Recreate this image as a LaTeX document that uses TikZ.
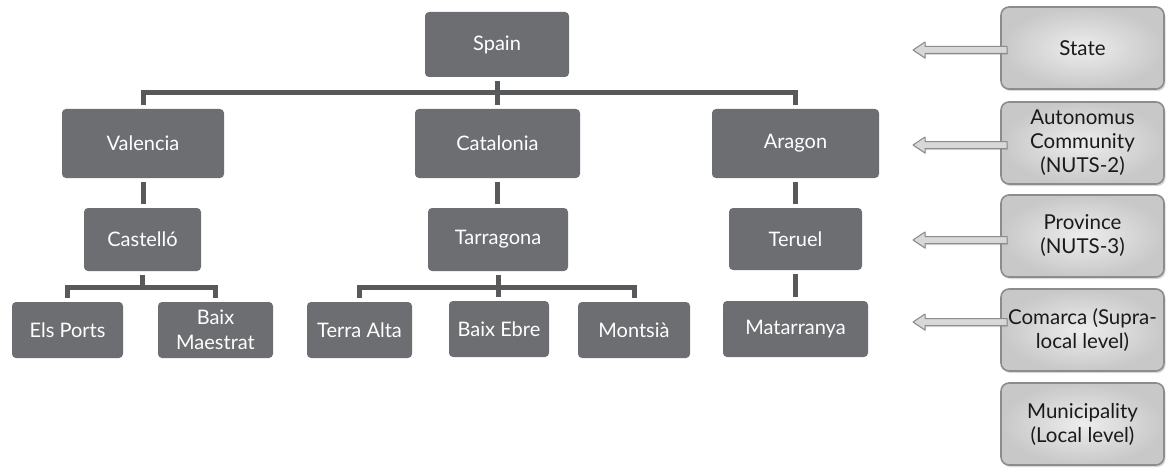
\documentclass[tikz,border=0pt]{standalone}
\usepackage{fontspec}
\setmainfont{Lato}
\usetikzlibrary{calc,shadows}

\definecolor{boxdark}{HTML}{6D6E71}
\definecolor{linkc}{HTML}{58595B}
\definecolor{lvlfill}{HTML}{D8D8D8}
\definecolor{lvlin}{HTML}{EDEDED}
\definecolor{lvlout}{HTML}{C8C8C8}
\definecolor{lvledge}{HTML}{8C8C8C}
\definecolor{lvltext}{HTML}{1A1A1A}

% arrow from a level box to the tree row it names
\newcommand\levelarrow[2]{%
  \draw[levelarr] let \p1=(#2), \p2=(#1.west) in
    (\p1) -- (\x1+12pt,\y1+8pt) -- (\x1+12pt,\y1+3.5pt) -- (\x2+7pt,\y1+3.5pt)
    -- (\x2+7pt,\y1-3.5pt) -- (\x1+12pt,\y1-3.5pt) -- (\x1+12pt,\y1-8pt) -- cycle;}

\begin{document}
\begin{tikzpicture}[x=1pt,y=-1pt,
  unit/.style={draw=none,fill=boxdark,rounded corners=4pt,text=white,
    align=center,inner sep=0pt,font=\fontsize{20}{24.5}\selectfont},
  level/.style={draw=lvledge,line width=1.6pt,rounded corners=8pt,
    inner color=lvlin,outer color=lvlout,text=lvltext,
    minimum width=163pt,minimum height=82pt,align=center,inner sep=0pt,
    font=\fontsize{20.5}{24}\selectfont,
    drop shadow={opacity=0.3,shadow xshift=1.5pt,shadow yshift=-2pt}},
  link/.style={draw=linkc,line width=5pt,shorten <=4pt,shorten >=4pt},
  levelarr/.style={draw=lvledge,line width=1pt,fill=lvlfill,line join=round,
    drop shadow={opacity=0.3,shadow xshift=1pt,shadow yshift=-1.5pt}}]
\useasboundingbox (0,0) rectangle (1166,468);

% tree of territorial units
\node[unit,minimum width=144pt,minimum height=65pt] (spain) at (497,44.5) {Spain};
\node[unit,minimum width=162pt,minimum height=69pt] (valencia) at (143,143.5) {Valencia};
\node[unit,minimum width=165pt,minimum height=69pt] (catalonia) at (497.5,143.5) {Catalonia};
\node[unit,minimum width=167pt,minimum height=69pt] (aragon) at (795.5,143.5) {Aragon};
\node[unit,minimum width=117pt,minimum height=63pt] (castello) at (142.5,239.5) {Castelló};
\node[unit,minimum width=140pt,minimum height=63pt] (tarragona) at (498,239.5) {Tarragona};
\node[unit,minimum width=133pt,minimum height=62pt] (teruel) at (795.5,239) {Teruel};
\node[unit,minimum width=111pt,minimum height=56pt] (elsports) at (67.5,330) {Els Ports};
\node[unit,minimum width=115pt,minimum height=56pt] (baixmaestrat) at (215.5,330) {Baix\\Maestrat};
\node[unit,minimum width=105pt,minimum height=56pt] (terraalta) at (359.5,330) {Terra Alta};
\node[unit,minimum width=100pt,minimum height=56pt] (baixebre) at (499,329) {Baix Ebre};
\node[unit,minimum width=112pt,minimum height=56pt] (montsia) at (634,330) {Montsià};
\node[unit,minimum width=145pt,minimum height=56pt] (matarranya) at (795.5,329) {Matarranya};

% connectors of the tree
\coordinate (busTop) at (497,93);
\coordinate (busCas) at (142.5,287.5);
\coordinate (busTar) at (498,287.5);
\draw[link] (spain.south) -- (spain.south |- catalonia.north);
\draw[link] (valencia.north) |- (busTop) -| (aragon.north);
\draw[link] (valencia.south) -- (valencia.south |- castello.north);
\draw[link] (catalonia.south) -- (catalonia.south |- tarragona.north);
\draw[link] (aragon.south) -- (aragon.south |- teruel.north);
\draw[link,shorten >=0pt] (castello.south) -- (busCas);
\draw[link] (elsports.north) |- (busCas) -| (baixmaestrat.north);
\draw[link] (tarragona.south) -- (tarragona.south |- baixebre.north);
\draw[link] (terraalta.north) |- (busTar) -| (montsia.north);
\draw[link] (teruel.south) -- (teruel.south |- matarranya.north);

% administrative levels
\node[level] (state) at (1082.5,48) {State};
\node[level] (autonomous) at (1082.5,143) {Autonomus\\Community\\(NUTS-2)};
\node[level] (province) at (1082.5,236) {Province\\(NUTS-3)};
\node[level] (comarca) at (1082.5,330) {Comarca (Supra-\\local level)};
\node[level] (municipality) at (1082.5,424) {Municipality\\(Local level)};

\coordinate (tipState) at (913,50);
\coordinate (tipAuto) at (913,145);
\coordinate (tipProv) at (913,240);
\coordinate (tipCom) at (913,322);
\levelarrow{state}{tipState}
\levelarrow{autonomous}{tipAuto}
\levelarrow{province}{tipProv}
\levelarrow{comarca}{tipCom}
\end{tikzpicture}
\end{document}
